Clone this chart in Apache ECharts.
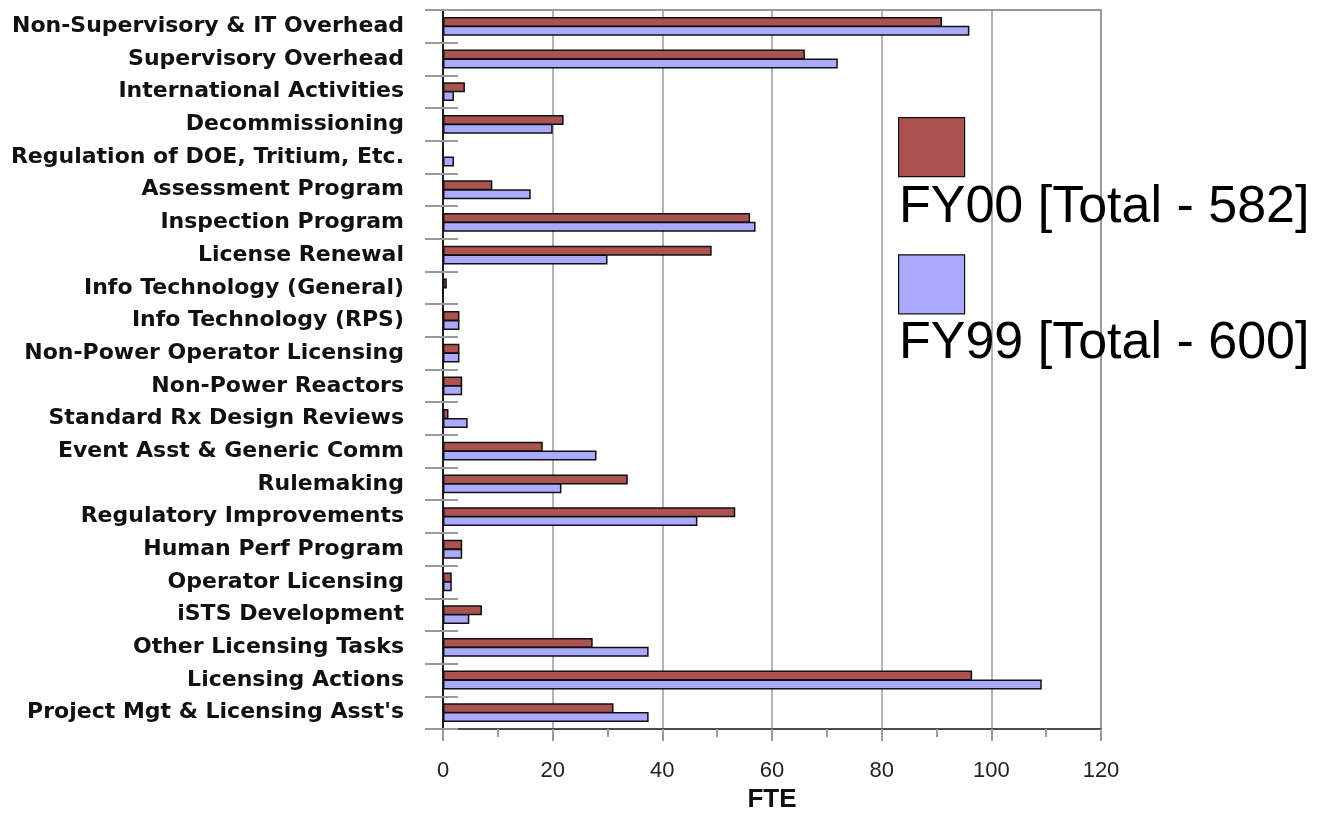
<!DOCTYPE html>
<html>
<head>
<meta charset="utf-8">
<script src="https://cdn.jsdelivr.net/npm/echarts@6/dist/echarts.min.js"></script>
<style>
  html, body { margin: 0; padding: 0; background: #fff; }
  #chart { width: 1317px; height: 814px; }
</style>
</head>
<body>
<div id="chart"></div>
<script>
// categories top -> bottom
var categories = [
  "Non-Supervisory & IT Overhead",
  "Supervisory Overhead",
  "International Activities",
  "Decommissioning",
  "Regulation of DOE, Tritium, Etc.",
  "Assessment Program",
  "Inspection Program",
  "License Renewal",
  "Info Technology (General)",
  "Info Technology (RPS)",
  "Non-Power Operator Licensing",
  "Non-Power Reactors",
  "Standard Rx Design Reviews",
  "Event Asst & Generic Comm",
  "Rulemaking",
  "Regulatory Improvements",
  "Human Perf Program",
  "Operator Licensing",
  "iSTS Development",
  "Other Licensing Tasks",
  "Licensing Actions",
  "Project Mgt & Licensing Asst's"
];

var fy00Name = "FY00 [Total - 582]";
var fy99Name = "FY99 [Total - 600]";

var fy00 = [91, 66, 4, 22, 0, 9, 56, 49, 0.7, 3, 3, 3.5, 1, 18.2, 33.7, 53.3, 3.5, 1.6, 7.1, 27.3, 96.5, 31.1];
var fy99 = [96, 72, 2, 20, 2, 16, 57, 30, 0, 3, 3, 3.5, 4.5, 28, 21.6, 46.4, 3.5, 1.6, 4.8, 37.5, 109.2, 37.5];

var xTicks = { min: 0, max: 120, interval: 20 };

var redColor = "#ab5350";
var blueColor = "#aaaaff";
var tickGray = "#9a9a9a";

var myChart = echarts.init(document.getElementById("chart"));

var option = {
  backgroundColor: "#ffffff",
  animation: false,
  grid: {
    left: 443,
    right: 216,
    top: 10,
    bottom: 85,
    outerBoundsMode: "none",
    containLabel: false,
    show: true,
    borderColor: "#333",
    borderWidth: 1.2,
    backgroundColor: "transparent"
  },
  legend: [
    {
      // colour boxes
      orient: "vertical",
      left: 898,
      top: 117,
      padding: 0,
      itemWidth: 66,
      itemHeight: 59,
      itemGap: 77,
      icon: "rect",
      data: [fy00Name, fy99Name],
      formatter: function () { return ""; },
      itemStyle: { borderColor: "#111", borderWidth: 1.2 }
    },
    {
      // texts under the boxes
      orient: "vertical",
      left: 894,
      top: 182,
      padding: 0,
      itemWidth: 0,
      itemHeight: 52,
      itemGap: 84,
      icon: "none",
      data: [fy00Name, fy99Name],
      textStyle: {
        fontFamily: "Liberation Sans, Arial, sans-serif",
        fontSize: 52,
        lineHeight: 52,
        color: "#000"
      }
    }
  ],
  xAxis: [
    {
      type: "value",
      min: xTicks.min,
      max: xTicks.max,
      interval: xTicks.interval,
      position: "bottom",
      name: "FTE",
      nameLocation: "middle",
      nameGap: 58,
      nameTextStyle: {
        fontFamily: "Liberation Sans, Arial, sans-serif",
        fontWeight: "bold",
        fontSize: 26,
        color: "#111"
      },
      axisLine: { show: true, lineStyle: { color: "#333", width: 1.5 } },
      axisTick: { show: true, length: 12, lineStyle: { color: tickGray, width: 2 } },
      minorTick: { show: true, splitNumber: 2, length: 8, lineStyle: { color: tickGray, width: 2 } },
      splitLine: { show: true, lineStyle: { color: "#a0a0a0", width: 1.6 } },
      axisLabel: {
        margin: 31,
        fontFamily: "Liberation Sans, Arial, sans-serif",
        fontSize: 22,
        color: "#222"
      }
    },
    {
      // inner halves of the minor ticks
      type: "value",
      min: xTicks.min,
      max: xTicks.max,
      interval: xTicks.interval,
      position: "bottom",
      axisLine: { show: false },
      axisTick: { show: false },
      minorTick: { show: true, splitNumber: 2, length: 7, lineStyle: { color: tickGray, width: 2 } },
      splitLine: { show: false },
      axisLabel: { show: false }
    }
  ],
  yAxis: [
    {
      type: "category",
      data: categories,
      inverse: true,
      position: "left",
      axisLine: { show: true, lineStyle: { color: "#111", width: 1.8 } },
      axisTick: { show: true, length: 18, lineStyle: { color: tickGray, width: 2 } },
      splitLine: { show: false },
      axisLabel: {
        margin: 39,
        interval: 0,
        fontFamily: "DejaVu Sans, Verdana, sans-serif",
        fontWeight: "bold",
        fontSize: 22,
        color: "#111"
      }
    },
    {
      // inner halves of the category ticks
      type: "category",
      data: categories,
      inverse: true,
      position: "left",
      axisLine: { show: false },
      axisTick: { show: true, inside: true, length: 15, lineStyle: { color: tickGray, width: 2 } },
      axisLabel: { show: false },
      splitLine: { show: false }
    }
  ],
  series: [
    {
      name: fy00Name,
      type: "bar",
      xAxisIndex: 0,
      yAxisIndex: 0,
      data: fy00,
      barWidth: 10,
      barGap: "-12%",
      itemStyle: { color: redColor, borderColor: "#111", borderWidth: 1.5 }
    },
    {
      name: fy99Name,
      type: "bar",
      xAxisIndex: 0,
      yAxisIndex: 0,
      data: fy99,
      barWidth: 10,
      barGap: "-12%",
      itemStyle: { color: blueColor, borderColor: "#111", borderWidth: 1.5 }
    }
  ]
};

myChart.setOption(option);
</script>
</body>
</html>
